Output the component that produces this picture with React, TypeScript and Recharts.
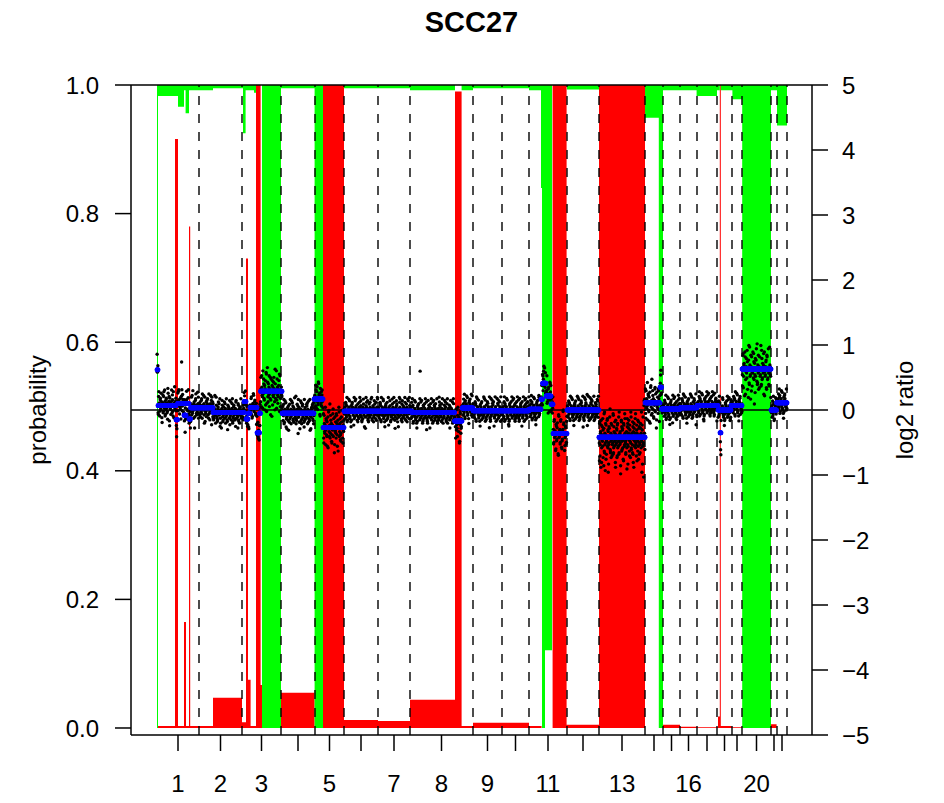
import React, { CSSProperties } from "react";
import {
    ComposedChart,
    Area,
    Scatter,
    XAxis,
    YAxis,
    ReferenceLine,
} from "recharts";

// clone index where each chromosome starts; the last clone is at 3150
const chromStart = [
    0, 210, 425, 620, 790, 935, 1105, 1265, 1580, 1725, 1860, 2050, 2210, 2440,
    2530, 2615, 2700, 2800, 2875, 2925, 3070, 3100,
];
const lastClone = 3150;
const chromLabels = [
    "1", "2", "3", "4", "5", "6", "7", "8", "9", "10", "11",
    "12", "13", "14", "15", "16", "17", "18", "19", "20", "21", "22",
];
const shownChroms = ["1", "2", "3", "5", "7", "8", "9", "11", "13", "16", "20"];

// probability of loss (red, drawn up from 0)
const lossStart = [
    0, 90, 105, 135, 145, 160, 166, 280, 425, 445, 455, 468, 495, 518, 525,
    620, 788, 830, 935, 1105, 1265, 1490, 1523, 1580, 1860, 1923, 1978, 2048,
    2210, 2440, 2528, 2615, 2698, 2805, 2814, 2819, 2873, 2926, 3070, 3098,
];
const lossProb = [
    0.003, 0.916, 0.003, 0.165, 0.003, 0.78, 0.003, 0.047, 0.009, 0.73, 0.075,
    0.003, 1, 0.067, 0, 0.055, 0, 1, 0.0125, 0.011, 0.044, 0.99, 0.003, 0.008,
    0.003, 0, 1, 0.005, 1, 0, 0.005, 0.002, 0.0012, 0.018, 1, 0.003, 0.0012, 0,
    0.006, 0,
];

// probability of gain (green, drawn down from 1)
const gainStart = [
    0, 5, 105, 135, 143, 160, 280, 430, 443, 485, 495, 525, 620, 788, 830, 935,
    1265, 1490, 1523, 1580, 1860, 1920, 1925, 1940, 1975, 2050, 2210, 2440,
    2509, 2530, 2698, 2800, 2814, 2819, 2877, 2926, 3070, 3100,
];
const gainProb = [
    1, 0.017, 0.034, 0.008, 0.044, 0.008, 0.005, 0.075, 0.008, 0.012, 0, 1,
    0.005, 1, 0, 0.005, 0.008, 0, 0.008, 0.005, 0.008, 0.16, 1, 0.879, 0, 0.007,
    0, 0.051, 1, 0.008, 0.017, 0.008, 0, 0.008, 0.022, 1, 0.008, 0.063,
];

// segmented log2 ratio (blue)
const segStart = [
    0, 5, 95, 103, 135, 145, 160, 168, 280, 435, 445, 455, 465, 500, 513, 518,
    625, 785, 830, 935, 1275, 1488, 1525, 1580, 1860, 1920, 1928, 1945, 1970,
    1980, 2050, 2210, 2440, 2515, 2523, 2615, 2700, 2805, 2815, 2820, 2870,
    2925, 3070, 3098,
];
const segLog2 = [
    0.62, 0.07, -0.15, 0.1, -0.08, 0.1, -0.14, 0.035, -0.04, 0.13, -0.14, -0.05,
    0.04, -0.35, -0.05, 0.29, -0.05, 0.17, -0.27, -0.02, -0.04, -0.17, 0.03,
    -0.01, 0.01, 0.165, 0.41, 0.215, 0.09, -0.36, 0, -0.42, 0.11, 0.35, 0.015,
    0.035, 0.07, 0, -0.35, 0, 0.07, 0.63, 0, 0.11,
];

// raw log2 ratio of each clone, per chromosome, as offset from its segment.
// letter "m" is the middle, each letter step = 0.05.
// two interleaved clone sets per chromosome (odd and even clones)
const oddClones = [
    "rmkpnjolqmhnkpmrjlonkiqmpgnlmrkojmnsliphmnkqmjlomzkpnjmrhlnqmkojlnpimkqlnjogmpnklrmj",
    "mkonlpjmnqkmilonmpkjnmlqnhmopklmnjrmlkonpmijnmqlkomnpjlmkhnomqlnkmpjlonmkiqmnlpkmjonlm",
    "nlmkpojmnlqkmimonlpkjnmqlonkmhpmlnkopjnrlhmqkonisgmpjlrnkfqmoilpnjtkmhqlnomgrk",
    "mlonkpjmqnilmokhnpmljqnmkomrlnjkpmglonmqkjnplmikonmpljnqmkhnlompkjmn",
    "nkpmqjlrmohnlkpmmjqlnhpkomgrlnjqmiknspmhlojqkmfnrlpkiomjnl",
    "nmkplojmnqlkmjonpmlikmnqolmjnkpmlonjmkqlnmhopmlkjnmplqnkmojlmnkpmlq",
    "mnlkpojmlnqkmjlonmpklimnojmlqnkmplhnmokjlnmpqlmkjnolmkpnmljqnmko",
    "mnkplojmnqlkmjlonpmkzmlqnjkomplnmhkjqlnompmkljnqmokplmnjlkrmonlpkmjnlqmokmpjlnmkoqlnmjkplmmhqlkonjmgplknnmkplojmnqlkmjonplmkqn",
    "mnlkpojmqnlkmjolnpmkmlqnjkomplnmhkjqlnmopmklnjmqlokmpnjlm",
    "nlmkpjomnqlkmijonlpmkmnqlojkmplnmkjqlonmpklmjnoqlmkpnm",
    "mnkplojmnqlkmjlonpmkqlnmnlmpkqmrljnokmhpnlqmkonlmjqlnhpkomgslnjqmikntpmhlojq",
    "mnkplojmnqlkmjlonpmkmlqnjkomplnmhkjqlnomrmkljnqmokplmnjlkmonlpkm",
    "mfrkodqjnlsgmpiukcnqhlmsjoekpmvilgnqkmhtjolrmdknpgqjmlhunkobmrilpjmfqnkslhmojskenpmiqlgujnmkrhodpmlsjknqfmilrphnkmpjulqemkawmy",
    "mjqlnhpkomgrlnjqmiknrpmhlojqkmmqknlm",
    "nmkplojmnqlkmjonpmlikmnqolmjnkpmlo",
    "mlnkpojmqnlkmjolnpmkmlqnjkomplnmhk",
    "nlmkpjomnqlkmijonlpmkmnqlojkmplnmkjqlonm",
    "mnkplomhjmnqlkmjlonpmkmlqnjkom",
    "nmkplojmnqlkmjonpmlk",
    "mhrkoeqjnlsgmpitkdnqhlmrjofkpmuilgnqkmhsjolrmeknpgqjmlhtnk",
    "mnkplojmnqlk",
    "nmkplojmnqlkmjonpmlkm",
];
const evenClones = [
    "lnjqmkolnimpkqlnjmolkrmnholjnmpkqimlnokjmplqnmkhoqlnmjkpolmnikqmlojnpmkrlnmjoqkmlnpk",
    "nljmokqmlnhpmkjonlmqkinmopljkmnrlmokjnpmlqkmhnojlmpknmqljomnkilpmnqjkolmnpkmlhojnmlqkm",
    "mkonljpmqlnkmhonlkpmjnqlmokmnjlpkmoimqhnkslojgpmritkonhlqjmepnkqlgomsjnikprmhl",
    "nkmolqjnmpkhlnomjkqnlmpokjnmlrkmnoqljhmnpkolmjqnkmlopnjkmqlhnmokpljn",
    "mqjolkrnmhpkonljqhnkslojgpmrjtkonhlqjmeplkqngomsjnikprmhlo",
    "lnmokqjmlnpkmhjonlmqkpnmljokmnqlpkjmnolhmkqnmpjloknmlqjmnkpolmjnqm",
    "nkmlojqmnlpkmhnojlmkqnmpljkmonlqmjknpolmhkqnmljopmknlqmjonkmplqm",
    "lnmkqojmlnpkmhjonlmqkpnmljokmnqlpkjmnolhmkqnmpjloknmlqjmnkpolmjnqmklonpmjkqlnmohkmnlpjqmknkpjmhqlnfmoikmmlnkqjomnlpkmhonlmqkjn",
    "nkmlojqmnlpkmhnojlmkqnmpljkmonlqmjknpolmhkqnmljopmknlqmj",
    "mlnkqojmnlpkmhjonlmqkpnmljokmnqlpkjmnolhmkqnmpjloknmlq",
    "lnmkqojmlnpkmhjonlmqkpnmmqkonrlmpjnsklomhqnpkmjonjqmlhokpmfrlnjqmhkntpmioljr",
    "nkmlojqmnlpkmhnojlmkqnmpljkmonlqmjknpolmhkqnmljopmknlqmjonkmplqm",
    "kqgnmrelpjomdthnkqflmrjobkpmsihnqlgmkthpjmnerlkogqmjshlnkdmrpiolfqmjtnkhlmcpqjnrlgomksinmhpelqjnmtkgonlrjfmpkhqmnlbojskmxni",
    "qhnkslojgpmritkonhlqjmeplkqngonrkmln",
    "lnmokqjmlnpkmhjonlmqkpnmljokmnqlpk",
    "nkmlojqmnlpkmhnojlmkqnmpljkmonlqmj",
    "mlnkqojmnlpkmhjonlmqkpnmljokmnqlpkjmnolh",
    "lnmkqojfmlnpkmhjonlmqkpnmljonm",
    "nkmlojqmnlpkmhnojlmk",
    "kqgnmrelpjomdthnkqflmrjobkpmsihnqlgmkthpjmnerlkogqmjshlnkd",
    "lnmkqojmnlpk",
    "mlnkqojmnlpkmhjonlmqk",
];

const chromEnd = (i: number) =>
    i + 1 < chromStart.length ? chromStart[i + 1] : lastClone;

const chromMids = chromStart.map((s, i) => (s + chromEnd(i)) / 2);

const stepRows = (starts: number[], probs: number[], toValue: (p: number) => any) => {
    const rows = starts.map((s, i) => ({ pos: s, value: toValue(probs[i]) }));
    rows.push({ pos: lastClone, value: toValue(probs[probs.length - 1]) });
    return rows;
};

const lossRows = stepRows(lossStart, lossProb, (p) => p);
const gainRows = stepRows(gainStart, gainProb, (p) => [1 - p, 1]);

const segmentAt = (pos: number) => {
    let v = segLog2[0];
    segStart.forEach((s, i) => {
        if (s <= pos) v = segLog2[i];
    });
    return v;
};

const clones: { pos: number; v: number; seg: number }[] = [];
const addClones = (sets: string[], shift: number, middle: number) => {
    sets.forEach((offsets, c) => {
        const a = chromStart[c];
        const b = chromEnd(c);
        for (let i = 0; i < offsets.length; i++) {
            const pos = a + ((i + shift) * (b - a)) / offsets.length;
            const seg = segmentAt(pos);
            clones.push({
                pos,
                seg,
                v: seg + (offsets.charCodeAt(i) - 109) * 0.05 + middle,
            });
        }
    });
};
addClones(oddClones, 0.25, -0.0125);
addClones(evenClones, 0.75, 0.0125);
const segmentPoints = clones.map((d) => ({ pos: d.pos, v: d.seg }));

const blackDot = (props: any) => (
    <circle cx={props.cx} cy={props.cy} r={1.7} fill="#000" />
);
const blueDot = (props: any) => (
    <circle cx={props.cx} cy={props.cy} r={2.5} fill="#0000ff" />
);

const tickStyle = { fill: "#000", fontSize: 24 };

export default function App() {
    return (
        <div style={wrapperStyle}>
            <div style={titleStyle}>SCC27</div>
            <div style={{ ...axisTitleStyle, left: 30, top: 402 }}>probability</div>
            <div style={{ ...axisTitleStyle, left: 897, top: 402 }}>log2 ratio</div>
            <ComposedChart
                width={928}
                height={795}
                margin={{ top: 77, right: 44, bottom: 0, left: 43 }}
            >
                <XAxis
                    type="number"
                    dataKey="pos"
                    domain={[-130, 3275]}
                    allowDataOverflow
                    ticks={chromMids}
                    interval={0}
                    tickFormatter={(v: number) => {
                        const label = chromLabels[chromMids.indexOf(v)];
                        return shownChroms.includes(label) ? label : "";
                    }}
                    tickSize={16}
                    tickMargin={24}
                    height={68}
                    stroke="#000"
                    strokeWidth={1.5}
                    tick={tickStyle}
                />
                <YAxis
                    yAxisId="left"
                    type="number"
                    domain={[-0.0109, 1]}
                    allowDataOverflow
                    ticks={[0, 0.2, 0.4, 0.6, 0.8, 1]}
                    tickFormatter={(v: number) => v.toFixed(1)}
                    tickSize={16}
                    tickMargin={16}
                    width={80}
                    stroke="#000"
                    strokeWidth={1.5}
                    tick={tickStyle}
                />
                <YAxis
                    yAxisId="right"
                    orientation="right"
                    type="number"
                    dataKey="v"
                    domain={[-5, 5]}
                    allowDataOverflow
                    ticks={[-5, -4, -3, -2, -1, 0, 1, 2, 3, 4, 5]}
                    tickFormatter={(v: number) =>
                        v < 0 ? "\u2212" + Math.abs(v) : String(v)
                    }
                    tickSize={16}
                    tickMargin={14}
                    width={80}
                    stroke="#000"
                    strokeWidth={1.5}
                    tick={tickStyle}
                />
                <Area
                    yAxisId="left"
                    data={lossRows}
                    dataKey="value"
                    type="stepAfter"
                    fill="#ff0000"
                    fillOpacity={1}
                    stroke="none"
                    isAnimationActive={false}
                />
                <Area
                    yAxisId="left"
                    data={gainRows}
                    dataKey="value"
                    type="stepAfter"
                    fill="#00ff00"
                    fillOpacity={1}
                    stroke="none"
                    isAnimationActive={false}
                />
                {chromStart.slice(1).concat([lastClone]).map((b) => (
                    <ReferenceLine
                        key={b}
                        x={b}
                        yAxisId="left"
                        stroke="#000"
                        strokeWidth={1.4}
                        strokeDasharray="9 9"
                    />
                ))}
                <ReferenceLine y={1} yAxisId="left" stroke="#000" strokeWidth={1.5} />
                <ReferenceLine y={0} yAxisId="right" stroke="#000" strokeWidth={1.5} />
                <Scatter
                    yAxisId="right"
                    data={clones}
                    dataKey="v"
                    shape={blackDot}
                    isAnimationActive={false}
                />
                <Scatter
                    yAxisId="right"
                    data={segmentPoints}
                    dataKey="v"
                    shape={blueDot}
                    isAnimationActive={false}
                />
            </ComposedChart>
        </div>
    );
}

const wrapperStyle: CSSProperties = {
    position: "relative",
    width: 928,
    height: 795,
    fontFamily: "'Liberation Sans', Arial, sans-serif",
};

const titleStyle: CSSProperties = {
    position: "absolute",
    left: 123,
    width: 681,
    top: 0,
    textAlign: "center",
    fontSize: 29,
    lineHeight: "29px",
    fontWeight: "bold",
};

const axisTitleStyle: CSSProperties = {
    position: "absolute",
    fontSize: 24,
    lineHeight: "24px",
    whiteSpace: "nowrap",
    transform: "translate(-50%, -50%) rotate(-90deg)",
};
